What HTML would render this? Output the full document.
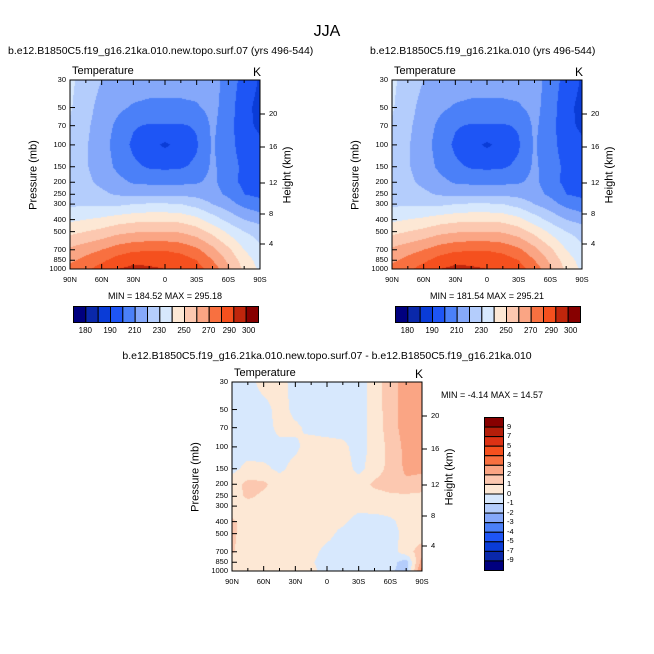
<!DOCTYPE html>
<html><head><meta charset="utf-8">
<style>
body{margin:0;background:#fff;}
#root{position:relative;width:654px;height:654px;font-family:"Liberation Sans",sans-serif;color:#000;overflow:hidden;}
.t{position:absolute;white-space:nowrap;line-height:1;}
canvas{position:absolute;}
.rot{position:absolute;white-space:nowrap;transform:translate(-50%,-50%) rotate(-90deg);font-size:11px;line-height:1;}
</style></head>
<body>
<div id="root">
<div class="t" style="left:0;width:654px;text-align:center;top:24px;font-size:16px;">JJA</div>
</div>
<script>
// ---------- data ----------
const lats = ["90N","60N","30N","0","30S","60S","90S"];
const pressures = [30,50,70,100,150,200,250,300,400,500,700,850,1000];
const pressureTicks = [30,50,70,100,150,200,250,300,400,500,700,850,1000];
const heightTicks = [20,16,12,8,4];
const heightTickPx = [34,67,103,134,164]; // offsets from plot top
const tempLevels = [180,185,190,200,210,220,230,240,250,260,270,280,290,300];
const tempLabels = ["180","","190","","210","","230","","250","","270","","290","300"];
const diffLevels = [-9,-7,-5,-4,-3,-2,-1,0,1,2,3,4,5,7,9];
const tempColors = ["#00007f","#0a28aa","#0a3cd7","#1e55f5","#4b80f8","#85a8fa","#b4cdfc","#d7e8fd","#fde8d5","#fcc8b0","#faa584","#f87040","#f5501e","#c0260c","#870000"];
const diffColors = ["#00007f","#0a28aa","#0a3cd7","#1e55f5","#4b80f8","#85a8fa","#b4cdfc","#d7e8fd","#fde8d5","#fcc8b0","#faa584","#f87040","#f5501e","#dc3214","#b41e0a","#870000"];
const tempA = [
[232,226,220,216,215,214,214,214,214,214,206,196,189],
[231,224,216,212,209,208,208,208,209,213,205,193,187],
[229,222,215,208,201,199,199,199,201,212,204,193,188],
[228,221,214,206,198,193,188.5,193,199,211,203,196,192],
[228,221,215,208,202,199,198,199,202,212,204,198,195],
[226,222,218,213,209,208,208,208,209,213,203,198,196],
[224,224,222,219,218,218,218,218,217,214,208,200,198],
[228,229,228,228,230,231,231,230,226,220,214,207,203],
[238,240,242,245,247,248,248,247,243,235,227,220,216],
[247,250,253,257,259,260,260,259,255,247,238,230,226],
[262,266,270,275,278,279,279,277,272,263,252,240,232],
[268,273,278,284,288,288,288,285,280,270,258,245,236],
[273,278,284,290,292,291,290,289,284,276,262,248,238]];
const tempB = [
[232,226,220,216,215,214,214,214,214,214,206,196,189],
[231,224,216,212,209,208,208,208,209,213,205,193,187],
[229,222,215,208,201,199,199,199,201,212,204,193,188],
[228,221,214,206,198,193,188.5,193,199,211,203,196,192],
[228,221,215,208,202,199,198,199,202,212,204,198,195],
[226,222,218,213,209,208,208,208,209,213,203,198,196],
[224,224,222,219,218,218,218,218,217,214,208,200,198],
[228,229,228,228,230,231,231,230,226,220,214,207,203],
[238,240,242,245,247,248,248,247,243,235,227,220,216],
[247,250,253,257,259,260,260,259,255,247,238,230,226],
[262,266,270,275,278,279,279,277,272,263,252,240,232],
[268,273,278,284,288,288,288,285,280,270,258,245,236],
[273,278,284,290,292,291,290,289,284,276,262,248,238]];
const diffVals = [
[-0.5,-0.5,0.5,0.5,-0.5,-0.5,-0.5,-0.5,-0.5,0.5,1.5,2.5,2.5],
[-0.5,-0.5,-0.5,0.5,-0.3,-0.5,-0.5,-0.5,-0.5,0.5,1.5,2.5,2.5],
[-0.5,-0.5,-0.5,0.3,0.2,-0.3,-0.5,-0.5,-0.5,0.4,1.5,2.5,2.5],
[-0.5,-0.5,-0.5,-0.3,-0.2,0.5,0.5,0.3,-0.5,0.4,1.3,2.3,2.4],
[-0.3,0.3,0.2,-0.2,0.3,0.5,0.5,0.5,-0.3,0.5,1.3,2.2,2.2],
[0.5,1.3,1.2,0.5,0.5,0.5,0.5,0.5,0.5,1.2,1.5,1.8,1.6],
[0.5,1.2,0.8,0.5,0.5,0.5,0.5,0.5,0.5,0.6,0.8,0.8,0.7],
[0.3,0.5,0.5,0.5,0.5,0.5,0.5,0.5,0.3,0.5,0.5,0.5,0.5],
[1.2,0.5,0.5,0.5,0.5,0.5,0.4,0.2,-0.4,-0.5,-0.2,0.4,0.5],
[1.2,0.5,0.5,0.5,0.5,0.5,0.3,-0.3,-0.5,-0.5,-0.4,0.3,0.5],
[1.1,0.5,0.5,0.5,0.5,0.3,-0.3,-0.5,-0.5,-0.5,-0.5,0.6,1.5],
[0.5,0.5,0.5,0.5,0.5,0.1,-0.4,-0.5,-0.5,-0.5,-0.6,-1.5,2.5],
[0.5,0.4,0.5,0.5,0.5,0.2,-0.3,-0.5,-0.5,-0.5,-0.8,-1.5,3.5]];

// ---------- helpers ----------
const root = document.getElementById('root');
const W = 190, H = 189;
function yOf(p){ return Math.log(p/30)/Math.log(1000/30)*H; }
function colorFor(v, levels, pal){ let k=0; while(k<levels.length && v>=levels[k]) k++; return pal[k]; }
function text(str, x, y, size, name, extra){
  const d=document.createElement('div'); d.className='t'; d.textContent=str;
  d.style.left=x+'px'; d.style.top=y+'px'; d.style.fontSize=size+'px';
  if(extra) Object.assign(d.style, extra);
  
  
  root.appendChild(d); return d;
}
function sample(grid, fx, py){
  const nc=grid[0].length;
  const gx=fx*(nc-1); let i=Math.min(Math.floor(gx),nc-2); const tx=gx-i;
  let j=0; while(j<pressures.length-2 && yOf(pressures[j+1])<py) j++;
  const y0=yOf(pressures[j]), y1=yOf(pressures[j+1]);
  const ty=Math.max(0,Math.min(1,(py-y0)/(y1-y0)));
  const a=grid[j][i]*(1-tx)+grid[j][i+1]*tx;
  const b=grid[j+1][i]*(1-tx)+grid[j+1][i+1]*tx;
  return a*(1-ty)+b*ty;
}
function panel(L, T, grid, levels, pal, prefix){
  const c=document.createElement('canvas'); c.width=W; c.height=H;
  c.style.left=L+'px'; c.style.top=T+'px';
  
  
  root.appendChild(c);
  const g=c.getContext('2d');
  for(let y=0;y<H;y++) for(let x=0;x<W;x++){
    g.fillStyle=colorFor(sample(grid,(x+0.5)/W,y+0.5),levels,pal); g.fillRect(x,y,1,1);
  }
  const s=document.createElementNS('http://www.w3.org/2000/svg','svg');
  s.setAttribute('width',W+20); s.setAttribute('height',H+20);
  s.style.position='absolute'; s.style.left=(L-10)+'px'; s.style.top=(T-10)+'px'; s.style.overflow='visible';
  
  
  let h=`<rect x="10" y="10" width="${W}" height="${H}" fill="none" stroke="#000" stroke-width="1"/>`;
  pressureTicks.forEach(p=>{const y=10+yOf(p); h+=`<line x1="10" x2="15" y1="${y}" y2="${y}" stroke="#000"/>`;});
  for(let k=0;k<=12;k++){const x=10+k*W/12, len=(k%2==0)?5:3;
    h+=`<line x1="${x}" x2="${x}" y1="${10+H}" y2="${10+H-len}" stroke="#000"/><line x1="${x}" x2="${x}" y1="10" y2="${10+len}" stroke="#000"/>`;}
  heightTickPx.forEach(py=>{h+=`<line x1="${10+W}" x2="${10+W+5}" y1="${10+py}" y2="${10+py}" stroke="#000"/>`;});
  s.innerHTML=h; root.appendChild(s);
  pressureTicks.forEach(p=>text(String(p), L-40, T+yOf(p)-4, 7.5, 'pressure-tick-label', {width:'36px',textAlign:'right'}));
  heightTicks.forEach((v,k)=>text(String(v), L+W+9, T+heightTickPx[k]-4, 7.5, 'height-tick-label'));
  lats.forEach((v,k)=>text(v, L+k*W/6-15, T+H+7, 7.5, 'lat-tick-label', {width:'30px',textAlign:'center'}));
  text('Temperature', L+2, T-14, 11, 'variable-label');
  text('K', L+W-7, T-14, 12, 'units-label');
  const p1=document.createElement('div'); p1.className='rot'; p1.textContent='Pressure (mb)';
  p1.style.left=(L-36)+'px'; p1.style.top=(T+95)+'px';
    root.appendChild(p1);
  const p2=document.createElement('div'); p2.className='rot'; p2.textContent='Height (km)';
  p2.style.left=(L+W+28)+'px'; p2.style.top=(T+95)+'px';
    root.appendChild(p2);
}
function hbar(L, T){
  const s=document.createElementNS('http://www.w3.org/2000/svg','svg');
  s.setAttribute('width',190); s.setAttribute('height',20);
  s.style.position='absolute'; s.style.left=L+'px'; s.style.top=T+'px';
  
  
  const n=tempLevels.length+1, bw=185/n; let h='';
  for(let k=0;k<n;k++) h+=`<rect x="${0.5+k*bw}" y="0.5" width="${bw}" height="16" fill="${tempColors[k]}" stroke="#000" stroke-width="1"/>`;
  s.innerHTML=h; root.appendChild(s);
  tempLabels.forEach((lab,k)=>{ if(!lab) return;
    let off=0; if(k===12) off=-4; if(k===13) off=3;
    text(lab, L+(k+1)*bw-15+off, T+21, 8, 'colorbar-label', {width:'30px',textAlign:'center'}); });
}
// ---------- top panels ----------
text('b.e12.B1850C5.f19_g16.21ka.010.new.topo.surf.07 (yrs 496-544)', 8, 46, 10.5, 'panel-a-title');
text('b.e12.B1850C5.f19_g16.21ka.010 (yrs 496-544)', 370, 46, 10.5, 'panel-b-title');
panel(70, 80, tempA, tempLevels, tempColors, 'panel-a');
panel(392, 80, tempB, tempLevels, tempColors, 'panel-b');
text('MIN = 184.52  MAX = 295.18', 70, 292, 9, 'panel-a-minmax', {width:'190px',textAlign:'center'});
text('MIN = 181.54  MAX = 295.21', 392, 292, 9, 'panel-b-minmax', {width:'190px',textAlign:'center'});
hbar(73, 306); hbar(395, 306);
// ---------- difference panel ----------
text('b.e12.B1850C5.f19_g16.21ka.010.new.topo.surf.07 - b.e12.B1850C5.f19_g16.21ka.010', 0, 351, 10.5, 'panel-c-title', {width:'654px',textAlign:'center'});
panel(232, 382, diffVals, diffLevels, diffColors, 'panel-c');
text('MIN =  -4.14  MAX = 14.57', 441, 391, 9, 'panel-c-minmax');
(function(){
  const L=484,T=417,n=diffLevels.length+1,bh=153/n;
  const s=document.createElementNS('http://www.w3.org/2000/svg','svg');
  s.setAttribute('width',22); s.setAttribute('height',156);
  s.style.position='absolute'; s.style.left=L+'px'; s.style.top=T+'px';
  
  
  let h='';
  for(let k=0;k<n;k++) h+=`<rect x="0.5" y="${0.5+k*bh}" width="19" height="${bh}" fill="${diffColors[n-1-k]}" stroke="#000" stroke-width="1"/>`;
  s.innerHTML=h; root.appendChild(s);
  const rev=diffLevels.slice().reverse();
  rev.forEach((v,k)=>text(String(v), L+23, T+(k+1)*bh-4, 7.5, 'colorbar-label'));
})();
</script>
</body></html>
